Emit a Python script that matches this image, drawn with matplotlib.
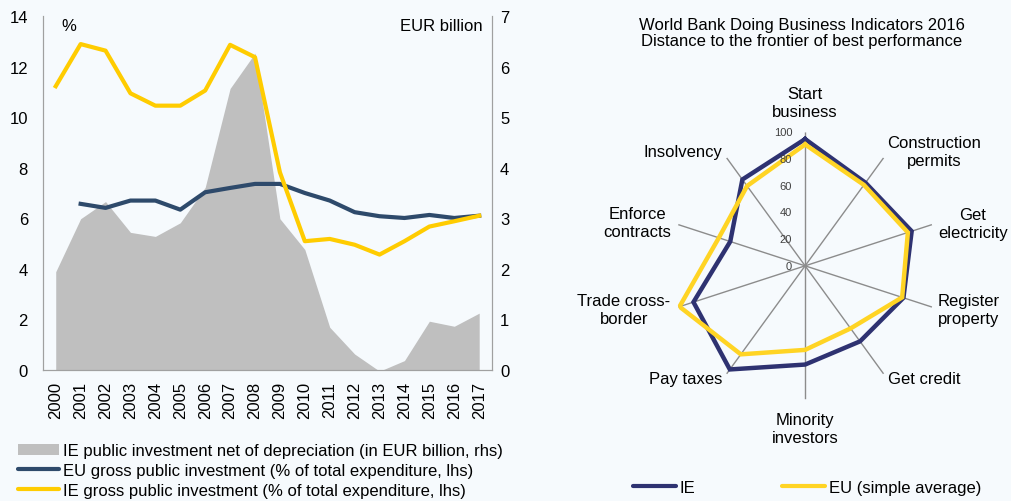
import matplotlib.pyplot as plt
import numpy as np
from matplotlib.patches import Patch
from matplotlib.lines import Line2D

plt.rcParams['font.family'] = ['Liberation Sans', 'DejaVu Sans']

# left chart data
years = list(range(2000, 2018))
ie_net_invest = [1.94, 2.99, 3.33, 2.72, 2.64, 2.91, 3.61, 5.57, 6.27, 2.99,
                 2.38, 0.84, 0.31, -0.03, 0.18, 0.96, 0.86, 1.12]
eu_gross = [np.nan, 6.57, 6.41, 6.70, 6.70, 6.34, 7.03, 7.20, 7.36, 7.36,
            7.00, 6.70, 6.24, 6.08, 6.01, 6.13, 6.01, 6.10]
ie_gross = [11.23, 12.90, 12.64, 10.95, 10.46, 10.46, 11.06, 12.87, 12.38, 7.82,
            5.09, 5.18, 4.95, 4.56, 5.09, 5.67, 5.88, 6.10]

# right chart data
indicators = ['Start\nbusiness', 'Construction\npermits', 'Get\nelectricity',
              'Register\nproperty', 'Get credit', 'Minority\ninvestors',
              'Pay taxes', 'Trade cross-\nborder', 'Enforce\ncontracts', 'Insolvency']
ie_dtf = [95, 77, 84, 77.5, 70, 74, 96, 88, 59, 80]
eu_dtf = [91, 75, 81, 76.5, 58, 63, 82, 99, 68, 74]

bg = '#F6FAFD'
grey_area = '#BFBFBF'
eu_blue = '#2E4A6B'
yellow = '#FFCC00'
navy = '#2E3271'
yellow2 = '#FFD424'
spine_c = '#A0A0A0'
fs = 12

fig = plt.figure(figsize=(10.11, 5.02), dpi=100, facecolor=bg)

ax = fig.add_axes([0.0428, 0.2616, 0.4435, 0.7039])
ax2 = ax.twinx()
ax.set_zorder(ax2.get_zorder() + 1)
ax.patch.set_visible(False)
ax2.patch.set_facecolor(bg)

ax2.fill_between(years, ie_net_invest, color=grey_area, lw=0)
ax.plot(years, eu_gross, color=eu_blue, lw=3)
ax.plot(years, ie_gross, color=yellow, lw=3)

ax.set_xlim(1999.5, 2017.5)
ax.set_ylim(0, 14)
ax2.set_ylim(0, 7)
ax.set_xticks(years)
ax.set_xticklabels([str(y) for y in years], rotation=90)
ax.set_yticks(range(0, 15, 2))
ax2.set_yticks(range(0, 8))
for a in (ax, ax2):
    a.spines['top'].set_visible(False)
    for s in ('left', 'right', 'bottom'):
        a.spines[s].set_color(spine_c)
ax.tick_params(axis='y', length=0, labelsize=fs, pad=11)
ax.tick_params(axis='x', length=0, labelsize=fs, pad=8)
ax2.tick_params(axis='y', length=0, labelsize=fs, pad=6)
ax.text(0.04, 0.975, '%', transform=ax.transAxes, fontsize=fs, va='center')
ax.text(0.98, 0.975, 'EUR billion', transform=ax.transAxes, fontsize=fs,
        va='center', ha='right')

fig.legend([Patch(facecolor=grey_area),
            Line2D([], [], color=eu_blue, lw=3, solid_capstyle='round'),
            Line2D([], [], color=yellow, lw=3, solid_capstyle='round')],
           ['IE public investment net of depreciation (in EUR billion, rhs)',
            'EU gross public investment (% of total expenditure, lhs)',
            'IE gross public investment (% of total expenditure, lhs)'],
           loc='upper left', bbox_to_anchor=(0.018, 0.115), frameon=False,
           fontsize=fs, handlelength=2.45, handletextpad=0.24,
           labelspacing=0.3, borderpad=0, borderaxespad=0)

# radar
axr = fig.add_axes([0.6644, 0.2027, 0.2639, 0.5315], projection='polar')
axr.set_theta_zero_location('N')
axr.set_theta_direction(-1)
theta = np.linspace(0, 2 * np.pi, len(indicators), endpoint=False)
tc = np.append(theta, theta[0])
axr.plot(tc, ie_dtf + ie_dtf[:1], color=navy, lw=3.2, solid_joinstyle='miter')
axr.plot(tc, eu_dtf + eu_dtf[:1], color=yellow2, lw=3.2, solid_joinstyle='miter')
axr.set_ylim(0, 100)
axr.set_xticks(theta)
axr.set_xticklabels([])
axr.set_yticks([])
axr.xaxis.grid(True, color='#8C8C8C', lw=1)
axr.spines['polar'].set_visible(False)
axr.patch.set_visible(False)

for r in range(0, 101, 20):
    axr.annotate(str(r), xy=(0, r), xytext=(-13, 0), textcoords='offset pixels',
                 ha='right', va='center', fontsize=8, color='#404040')

label_off = [(0, 30, 'center'), (4, 6, 'left'), (6, 1.5, 'left'), (6, -2, 'left'),
             (4, -4.4, 'left'), (0, -29, 'center'), (-4.6, -4.4, 'right'),
             (-8, -2, 'right'), (-7, 2.5, 'right'), (-4.6, 6, 'right')]
for t, lab, (dx, dy, ha) in zip(theta, indicators, label_off):
    axr.annotate(lab, xy=(t, 100), xytext=(dx, dy), textcoords='offset pixels',
                 ha=ha, va='center', multialignment='center', fontsize=fs,
                 linespacing=1.25, annotation_clip=False)

fig.text(0.793, 0.933, 'World Bank Doing Business Indicators 2016\n'
         'Distance to the frontier of best performance',
         ha='center', va='center', fontsize=fs, linespacing=1.1)

fig.legend([Line2D([], [], color=navy, lw=3, solid_capstyle='round'),
            Line2D([], [], color=yellow2, lw=3, solid_capstyle='round')],
           ['IE', 'EU (simple average)'], ncol=2,
           loc='upper left', bbox_to_anchor=(0.626, 0.042), frameon=False,
           fontsize=fs, handlelength=2.6, handletextpad=0.2,
           columnspacing=5.2, borderpad=0, borderaxespad=0)

fig.savefig('out.png', dpi=100, facecolor=bg)
